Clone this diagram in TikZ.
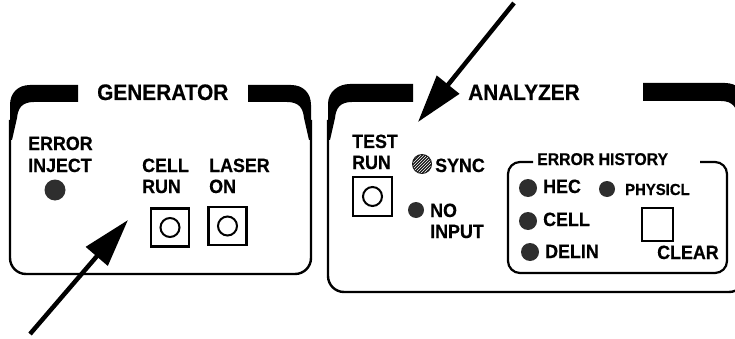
\documentclass[tikz,border=0pt]{standalone}
\usepackage{fontspec}
\setmainfont{Liberation Sans}[FakeStretch=0.93,FakeBold=0.5]
\usetikzlibrary{arrows.meta,patterns}
\begin{document}
\begin{tikzpicture}[x=1pt,y=-1pt,
  lbl/.style={font=\bfseries\fontsize{19.2}{21}\selectfont, inner sep=0pt, anchor=base west},
  ttl/.style={font=\bfseries\fontsize{22.4}{24}\selectfont, inner sep=0pt, anchor=base west},
  small/.style={font=\bfseries\fontsize{17}{19}\selectfont, inner sep=0pt, anchor=base west},
  tiny/.style={font=\bfseries\fontsize{16}{18}\selectfont, inner sep=0pt, anchor=base west},
  frame/.style={line width=2.4pt, line join=round},
  btn/.style={draw, line width=2.2pt, minimum width=38pt, minimum height=38pt, inner sep=0pt},
  knob/.style={draw, circle, line width=2pt, minimum size=19pt, inner sep=0pt},
  led/.style={circle, fill=black!82, inner sep=0pt},
  pointer/.style={line width=4.5pt, -{Triangle[length=48pt,width=28pt]}}]
\useasboundingbox (0,0) rectangle (735,339);
\clip (0,0) rectangle (735,339);

% ---------- GENERATOR panel ----------
\fill (78,85) -- (30,85) .. controls (18,85) and (10,93) .. (10,105) -- (10,140) -- (12,140)
  -- (17,118) .. controls (18,108) and (22,102) .. (34,102) -- (78,102) -- cycle;
\fill (248,85) -- (291,85) .. controls (303,85) and (311,93) .. (311,105) -- (311,140) -- (309,140)
  -- (304,118) .. controls (303,108) and (299,102) .. (287,102) -- (248,102) -- cycle;
\draw[frame, rounded corners=16pt] (10,120) -- (10,274) -- (311,274) -- (311,120);
\node[ttl] (gentitle) at (97,100) {GENERATOR};

\node[lbl] (errinj1) at (28,150) {ERROR};
\node[lbl] (errinj2) at (28,172) {INJECT};
\node[led, minimum size=21pt] (errinjled) at (55,190) {};

\node[lbl] (cellrun1) at (142,172) {CELL};
\node[lbl] (cellrun2) at (142,193) {RUN};
\node[lbl] (laser1) at (209,172) {LASER};
\node[lbl] (laser2) at (209,193) {ON};
\node[btn] (cellrunbtn) at (170,227.5) {};
\node[knob] (cellrunknob) at (cellrunbtn.center) {};
\node[btn] (laserbtn) at (227.5,226) {};
\node[knob] (laserknob) at (laserbtn.center) {};

% ---------- ANALYZER panel ----------
\fill (413,84) -- (350,84) .. controls (338,84) and (328,92) .. (328,104) -- (328,140) -- (330,140)
  -- (335,118) .. controls (336,108) and (340,102) .. (352,102) -- (413,102) -- cycle;
\fill (643,83) -- (725,83) .. controls (737,83) and (745,91) .. (745,103) -- (745,140) -- (743,140)
  -- (738,118) .. controls (737,108) and (733,101) .. (721,101) -- (643,101) -- cycle;
\draw[frame, rounded corners=16pt] (328,120) -- (328,292) -- (745,292) -- (745,120);
\node[ttl] (anatitle) at (468,100) {ANALYZER};

\node[lbl] (test1) at (352,148) {TEST};
\node[lbl] (test2) at (352,169) {RUN};
\node[btn, minimum width=39pt, minimum height=39pt] (testbtn) at (372.5,196.5) {};
\node[knob] (testknob) at (testbtn.center) {};

\node[led, minimum size=20pt, fill=black!90] (syncled) at (422,164) {};
\fill[pattern=north east lines, pattern color=white] (syncled.center) circle (9pt);
\node[lbl] (sync) at (435,172) {SYNC};

\node[led, minimum size=16pt] (noinled) at (416,210) {};
\node[lbl] (noin1) at (430,217) {NO};
\node[lbl] (noin2) at (430,238) {INPUT};

% error history box
\draw[line width=2.2pt, rounded corners=12pt] (533,162) -- (508,162) -- (508,273) -- (727,273) -- (727,162) -- (700,162);
\node[small] (histtitle) at (537,165) {ERROR HISTORY};
\node[led, minimum size=18pt] (hecled) at (528,188) {};
\node[lbl] (hec) at (543,193) {HEC};
\node[led, minimum size=16pt] (physled) at (607,189) {};
\node[tiny] (phys) at (625,195) {PHYSICL};
\node[led, minimum size=18pt] (cellled) at (528,221) {};
\node[lbl] (cell) at (543,226) {CELL};
\node[led, minimum size=18pt] (delinled) at (530,252) {};
\node[lbl] (delin) at (545,258) {DELIN};
\node[btn, minimum width=31pt, minimum height=33pt] (clearbtn) at (657.5,224.5) {};
\node[lbl] (clear) at (657,259) {CLEAR};

% ---------- pointer arrows ----------
\coordinate (p1tail) at (30,334);
\coordinate (p1tip) at (128,220);
\coordinate (p2tail) at (514,3);
\coordinate (p2tip) at (418,122);
\draw[pointer] (p1tail) -- (p1tip);
\draw[pointer] (p2tail) -- (p2tip);
\end{tikzpicture}
\end{document}
